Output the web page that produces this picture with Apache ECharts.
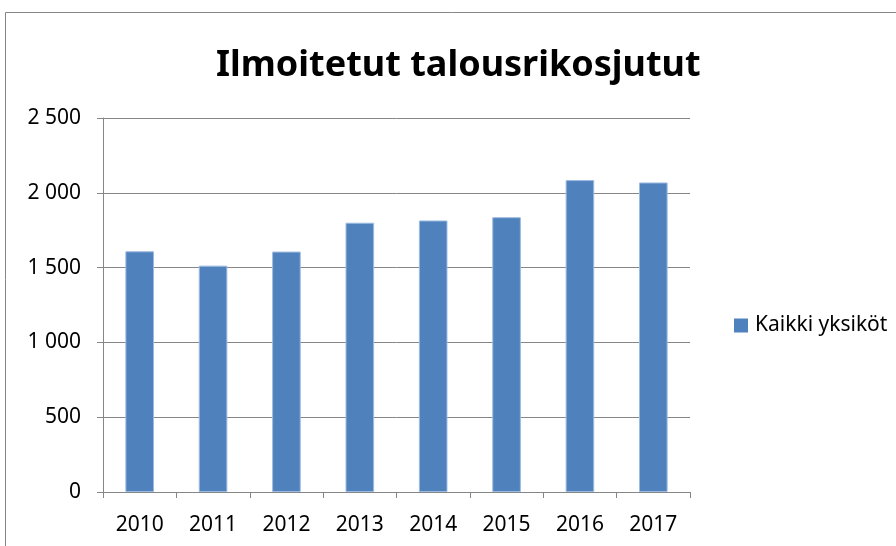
<!DOCTYPE html>
<html>
<head>
<meta charset="utf-8">
<script src="https://cdn.jsdelivr.net/npm/echarts@6/dist/echarts.min.js"></script>
<style>
  html, body { margin: 0; padding: 0; background: #fff; }
  #chart { width: 896px; height: 546px; }
</style>
</head>
<body>
<div id="chart"></div>
<script>
var years = ['2010', '2011', '2012', '2013', '2014', '2015', '2016', '2017'];
var values = [1609, 1513, 1607, 1800, 1815, 1837, 2085, 2069];
var seriesName = 'Kaikki yksiköt';

var chart = echarts.init(document.getElementById('chart'));

function fmt(v) {
    return String(v).replace(/\B(?=(\d{3})+(?!\d))/g, ' ');
}

var font = '"Noto Sans", sans-serif';

var option = {
    backgroundColor: '#fff',
    animation: false,
    title: {
        text: 'Ilmoitetut talousrikosjutut',
        left: 211,
        top: 43,
        textStyle: { fontFamily: font, fontSize: 36, fontWeight: 'bold', color: '#000' }
    },
    legend: {
        data: [seriesName],
        icon: 'rect',
        left: 729,
        top: 310,
        itemWidth: 14,
        itemHeight: 14,
        itemGap: 6,
        itemStyle: { borderWidth: 0 },
        textStyle: { fontFamily: font, fontSize: 21, color: '#000', padding: [0, 0, 0, 2] }
    },
    graphic: [{
        type: 'rect',
        shape: { x: 5.5, y: 12.5, width: 1000, height: 1000 },
        style: { fill: null, stroke: '#868686', lineWidth: 1 },
        silent: true
    }],
    grid: { left: 103, right: 206, top: 118, bottom: 54 },
    xAxis: {
        type: 'category',
        data: years,
        axisLine: { lineStyle: { color: '#868686' } },
        axisTick: { show: true, length: 6, lineStyle: { color: '#868686' } },
        axisLabel: { fontFamily: font, fontSize: 21, color: '#000', margin: 23 }
    },
    yAxis: {
        type: 'value',
        min: 0,
        max: 2500,
        interval: 500,
        axisLine: { show: true, lineStyle: { color: '#868686' } },
        axisTick: { show: true, length: 6, lineStyle: { color: '#868686' } },
        splitLine: { lineStyle: { color: '#868686', width: 1 } },
        axisLabel: {
            fontFamily: font, fontSize: 21, color: '#000', margin: 22,
            formatter: fmt
        }
    },
    series: [{
        name: seriesName,
        type: 'bar',
        data: values,
        barCategoryGap: '61%',
        itemStyle: { color: '#4F81BD', borderColor: '#9DBBE0', borderWidth: 1 }
    }]
};

chart.setOption(option);
</script>
</body>
</html>
